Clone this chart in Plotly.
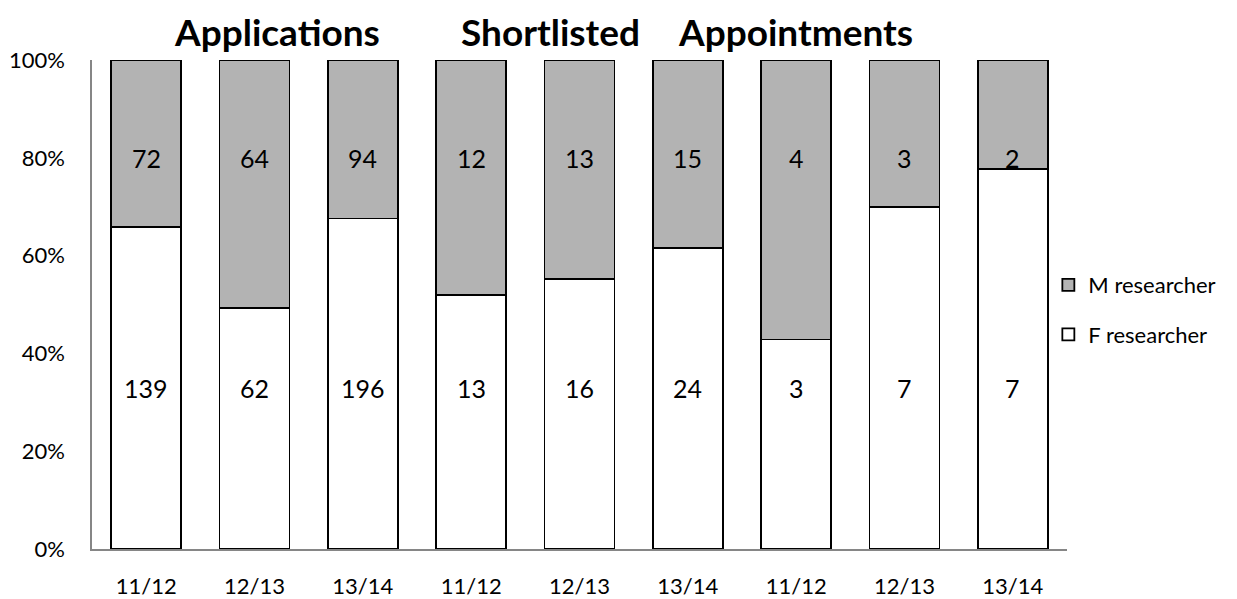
import plotly.graph_objects as go

periods = ["11/12", "12/13", "13/14", "11/12", "12/13", "13/14", "11/12", "12/13", "13/14"]
stages = ["Applications", "Shortlisted", "Appointments"]
f_researcher = [139, 62, 196, 13, 16, 24, 3, 7, 7]
m_researcher = [72, 64, 94, 12, 13, 15, 4, 3, 2]

FONT = "Lato"
xpos = list(range(len(periods)))

fig = go.Figure()
fig.add_trace(go.Bar(
    x=xpos, y=f_researcher, name="F researcher", legendgroup="f", legendrank=2,
    marker=dict(color="white", line=dict(color="black", width=1.8)),
    hoverinfo="skip",
))
fig.add_trace(go.Bar(
    x=xpos, y=m_researcher, name="M researcher", legendgroup="m", legendrank=1,
    marker=dict(color="#b3b3b3", line=dict(color="black", width=1.8)),
    hoverinfo="skip",
))

# value labels (Excel-style, placed in the lower and upper parts of the bars)
for i in xpos:
    fig.add_annotation(x=i, y=33, text=str(f_researcher[i]), showarrow=False,
                       xref="x", yref="y", font=dict(family=FONT, size=25, color="black"))
    fig.add_annotation(x=i, y=80, text=str(m_researcher[i]), showarrow=False,
                       xref="x", yref="y", font=dict(family=FONT, size=25, color="black"))

# stage titles
for label, px in zip(stages, [0.190, 0.470, 0.722]):
    fig.add_annotation(x=px, y=1.0593, xref="paper", yref="paper", text="<b>%s</b>" % label,
                       showarrow=False, yanchor="middle", xanchor="center",
                       font=dict(family=FONT, size=37, color="black"))

fig.update_layout(
    barmode="stack",
    barnorm="percent",
    bargap=0.354,
    width=1229, height=591,
    margin=dict(l=84, r=170, t=52, b=50, autoexpand=False),
    plot_bgcolor="white", paper_bgcolor="white",
    font=dict(family=FONT, size=22, color="black"),
    showlegend=True,
    legend=dict(
        xref="container", yref="container",
        x=0.8465, xanchor="left", y=0.489, yanchor="middle",
        traceorder="grouped", tracegroupgap=18,
        font=dict(family=FONT, size=22, color="black"),
        bgcolor="rgba(0,0,0,0)",
    ),
)
fig.update_xaxes(
    tickmode="array", tickvals=xpos, ticktext=periods,
    range=[-0.5, len(periods) - 0.5],
    showline=True, linecolor="#868686", linewidth=1.5,
    showgrid=False, zeroline=False, ticks="", automargin=False,
    tickfont=dict(family=FONT, size=22, color="black"),
    ticklabelstandoff=17,
)
fig.update_yaxes(
    range=[0, 100], tickmode="array", tickvals=[0, 20, 40, 60, 80, 100],
    ticktext=["0%", "20%", "40%", "60%", "80%", "100%"],
    showline=True, linecolor="#868686", linewidth=1.5,
    showgrid=False, zeroline=False, ticks="", automargin=False,
    tickfont=dict(family=FONT, size=22, color="black"),
    ticklabelstandoff=21,
)

fig.write_html("out.html")
